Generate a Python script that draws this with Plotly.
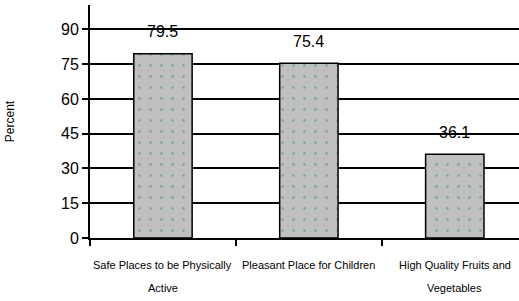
import plotly.graph_objects as go

categories = ["Safe Places to be Physically<br>Active", "Pleasant Place for Children", "High Quality Fruits and<br>Vegetables"]
values = [79.5, 75.4, 36.1]
value_labels = ["79.5", "75.4", "36.1"]
y_ticks = [0, 15, 30, 45, 60, 75, 90]

FONT = "Liberation Sans Narrow, Liberation Sans, Arial, sans-serif"

fig = go.Figure()
fig.add_trace(go.Bar(
    x=categories, y=values, width=0.4,
    marker=dict(color="#c0c0c0", line=dict(color="black", width=1.5),
                pattern=dict(shape=".", fgcolor="#3a9a6a", bgcolor="#c0c0c0", size=11, solidity=0.05)),
    hoverinfo="skip",
))
for c, v, t in zip(categories, values, value_labels):
    fig.add_annotation(x=c, y=v, text=t, showarrow=False, yshift=22,
                       font=dict(family=FONT, size=16, color="black"))

# category labels (two lines with wide spacing, as in the reference)
for c in categories:
    for i, line in enumerate(c.split("<br>")):
        fig.add_annotation(x=c, y=0, yref="y", text=line, showarrow=False,
                           yanchor="middle", yshift=-27 - 23 * i,
                           font=dict(family=FONT, size=11, color="black"))

fig.update_layout(
    width=519, height=301,
    margin=dict(l=90, r=0, t=5, b=63, autoexpand=False),
    paper_bgcolor="white", plot_bgcolor="white",
    showlegend=False,
    font=dict(family=FONT, color="black"),
    bargap=0.6,
)
fig.update_xaxes(
    type="category", range=[-0.5, 2.44], automargin=False, tickangle=0,
    showline=True, linecolor="black", linewidth=2,
    ticks="outside", tickson="boundaries", ticklen=6, tickwidth=2, tickcolor="black",
    showticklabels=False,
    showgrid=False,
)
fig.update_yaxes(
    range=[0, 100.5], tickvals=y_ticks, automargin=False,
    showline=True, linecolor="black", linewidth=2,
    showgrid=True, gridcolor="black", gridwidth=2,
    zeroline=False,
    ticks="outside", ticklen=6, tickwidth=2, tickcolor="black",
    tickfont=dict(family=FONT, size=16, color="black"),
    title=dict(text="Percent", font=dict(family=FONT, size=12, color="black"), standoff=44),
)
fig.write_html("out.html", config={"displayModeBar": False},
               post_script="document.body.style.margin='0';")
